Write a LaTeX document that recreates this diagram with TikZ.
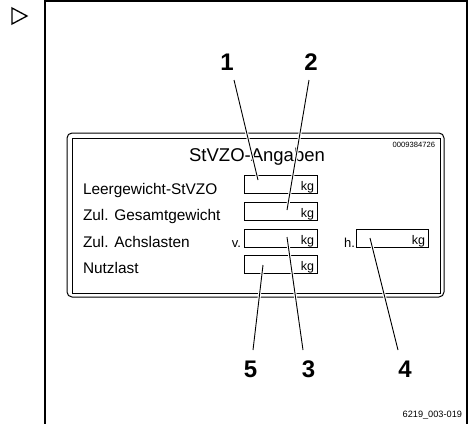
\documentclass[tikz,border=0pt]{standalone}
\usepackage{fontspec}
\setmainfont{Liberation Sans}
\begin{document}
\begin{tikzpicture}[x=1pt,y=-1pt,
  every node/.style={inner sep=0pt,outer sep=0pt},
  field/.style={draw,line width=0.9pt,minimum width=73pt,minimum height=18pt},
  lbl/.style={font=\fontsize{15.4}{15.4}\selectfont,anchor=base west},
  unit/.style={font=\fontsize{12.5}{12.5}\selectfont,anchor=base east},
  num/.style={font=\fontsize{24}{24}\selectfont\bfseries,anchor=base},
  leader/.style={line width=0.9pt,preaction={draw=white,line width=3pt}}]
\useasboundingbox (0,0) rectangle (473,423);
% marker triangle
\draw[line width=1.3pt,line join=miter] (12,8) -- (27,16) -- (12,24) -- cycle;
% frame
\draw[line width=1.2pt] (45,424) -- (45,1) -- (467,1) -- (467,424);
% plate
\draw[line width=1pt,rounded corners=5pt] (67,133) rectangle (444,297);
\draw[line width=1pt] (72,138) rectangle (440,293);
\node[font=\fontsize{18.5}{18.5}\selectfont,anchor=base] (title) at (257,161) {StVZO-Angaben};
\node[font=\fontsize{7.6}{7.6}\selectfont,anchor=base east] (serial) at (435,147.5) {0009384726};
% rows
\node[lbl] (l1) at (83,194) {Leergewicht-StVZO};
\node[lbl] (l2) at (83,220.5) {Zul. Gesamtgewicht};
\node[lbl] (l3) at (83,247) {Zul. Achslasten};
\node[lbl] (l4) at (83,273.5) {Nutzlast};
\node[field] (f1) at (280.5,184) {};
\node[field] (f2) at (280.5,211.5) {};
\node[field] (f3) at (280.5,238) {};
\node[field] (f4) at (280.5,264.5) {};
\node[field,minimum width=72pt] (f5) at (392,238) {};
\node[font=\fontsize{13}{13}\selectfont,anchor=base east] (v) at (241,247) {v.};
\node[font=\fontsize{13}{13}\selectfont,anchor=base east] (h) at (355,247) {h.};
\foreach \f in {f1,f2,f3,f4,f5}{
  \node[unit] (\f kg) at ([xshift=-3pt,yshift=3pt]\f.south east) {kg};
}
% callout numbers
\node[num] (n1) at (227,70) {1};
\node[num] (n2) at (311,70) {2};
\node[num] (n5) at (250.5,377) {5};
\node[num] (n3) at (308.5,377) {3};
\node[num] (n4) at (405,377) {4};
% leader end points
\coordinate (n1a) at (234,80);
\coordinate (n2a) at (309,80);
\coordinate (n3a) at (303,350);
\coordinate (n5a) at (253,350);
\coordinate (n4a) at (398,350);
\coordinate (e1) at (258,180);
\coordinate (e2) at (287,210);
\coordinate (e3) at (287,237);
\coordinate (e5) at (263,265);
\coordinate (e4) at (370,238);
\draw[leader] (n1a) -- (e1);
\draw[leader] (n2a) -- (e2);
\draw[leader] (n3a) -- (e3);
\draw[leader] (n5a) -- (e5);
\draw[leader] (n4a) -- (e4);
\node[font=\fontsize{9.2}{9.2}\selectfont,anchor=base east] (code) at (462,417) {6219\_003-019};
\end{tikzpicture}
\end{document}
